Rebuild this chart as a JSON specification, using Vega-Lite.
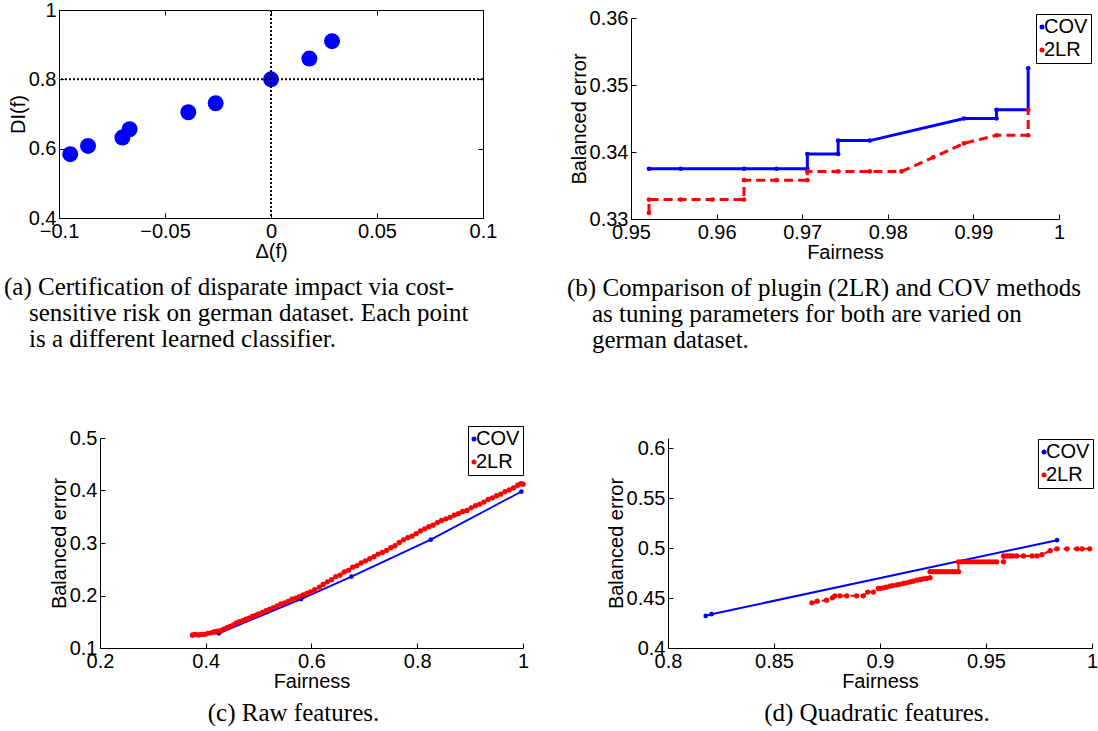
{
  "$schema": "https://vega.github.io/schema/vega-lite/v6.json",
  "padding": {"left": 3, "top": -1, "right": 0, "bottom": 0},
  "background": "white",
  "config": {
    "view": {"stroke": null},
    "font": "Liberation Sans",
    "axis": {"grid": false, "domainColor": "black", "tickColor": "black", "labelColor": "black", "titleColor": "black",
      "labelFont": "Liberation Sans", "titleFont": "Liberation Sans", "labelFontSize": 20, "titleFontSize": 20,
      "titleFontWeight": "normal", "tickSize": -5, "labelPadding": 8, "titlePadding": 0, "domainWidth": 1, "tickWidth": 1,
      "labelFlush": false, "labelOverlap": false, "labelBound": false},
    "title": {"font": "Liberation Serif", "fontSize": 25, "fontWeight": "normal", "color": "black", "lineHeight": 26, "orient": "bottom"},
    "legend": {"orient": "none", "title": null, "strokeColor": "black", "fillColor": "white", "padding": 3,
      "labelFont": "Liberation Sans", "labelFontSize": 20, "labelColor": "black", "symbolType": "circle",
      "symbolSize": 25, "symbolOffset": -7, "labelOffset": -8, "rowPadding": 3, "symbolStrokeWidth": 0, "columnPadding": 0}
  },
  "datasets": {
    "a_pts": [
      {"delta": -0.0947, "di": 0.584},
      {"delta": -0.0863, "di": 0.608},
      {"delta": -0.0701, "di": 0.632},
      {"delta": -0.0667, "di": 0.656},
      {"delta": -0.039, "di": 0.705},
      {"delta": -0.0261, "di": 0.731},
      {"delta": 0.0, "di": 0.8},
      {"delta": 0.0181, "di": 0.86},
      {"delta": 0.0288, "di": 0.91}
    ],
    "b_lines": [
      {"method": "COV", "fairness": 0.9521, "error": 0.3375},
      {"method": "COV", "fairness": 0.9558, "error": 0.3375},
      {"method": "COV", "fairness": 0.9632, "error": 0.3375},
      {"method": "COV", "fairness": 0.967, "error": 0.3375},
      {"method": "COV", "fairness": 0.9706, "error": 0.3375},
      {"method": "COV", "fairness": 0.9706, "error": 0.3397},
      {"method": "COV", "fairness": 0.9742, "error": 0.3397},
      {"method": "COV", "fairness": 0.9742, "error": 0.3417},
      {"method": "COV", "fairness": 0.9779, "error": 0.3417},
      {"method": "COV", "fairness": 0.9889, "error": 0.345},
      {"method": "COV", "fairness": 0.9927, "error": 0.345},
      {"method": "COV", "fairness": 0.9927, "error": 0.3463},
      {"method": "COV", "fairness": 0.9964, "error": 0.3463},
      {"method": "COV", "fairness": 0.9964, "error": 0.3525},
      {"method": "2LR", "fairness": 0.9521, "error": 0.3309},
      {"method": "2LR", "fairness": 0.9521, "error": 0.3329},
      {"method": "2LR", "fairness": 0.9558, "error": 0.3329},
      {"method": "2LR", "fairness": 0.9595, "error": 0.3329},
      {"method": "2LR", "fairness": 0.9632, "error": 0.3329},
      {"method": "2LR", "fairness": 0.9632, "error": 0.3358},
      {"method": "2LR", "fairness": 0.967, "error": 0.3358},
      {"method": "2LR", "fairness": 0.9706, "error": 0.3358},
      {"method": "2LR", "fairness": 0.9706, "error": 0.3371},
      {"method": "2LR", "fairness": 0.9742, "error": 0.3371},
      {"method": "2LR", "fairness": 0.9779, "error": 0.3371},
      {"method": "2LR", "fairness": 0.9816, "error": 0.3371},
      {"method": "2LR", "fairness": 0.9853, "error": 0.3392},
      {"method": "2LR", "fairness": 0.9889, "error": 0.3413},
      {"method": "2LR", "fairness": 0.9927, "error": 0.3425},
      {"method": "2LR", "fairness": 0.9964, "error": 0.3425},
      {"method": "2LR", "fairness": 0.9964, "error": 0.3463}
    ],
    "c_lines": [
      {"method": "COV", "fairness": 0.375, "error": 0.124},
      {"method": "COV", "fairness": 0.388, "error": 0.125},
      {"method": "COV", "fairness": 0.425, "error": 0.128},
      {"method": "COV", "fairness": 0.58, "error": 0.193},
      {"method": "COV", "fairness": 0.6756, "error": 0.236},
      {"method": "COV", "fairness": 0.8255, "error": 0.3064},
      {"method": "COV", "fairness": 0.997, "error": 0.398},
      {"method": "2LR", "fairness": 0.375, "error": 0.125},
      {"method": "2LR", "fairness": 0.38, "error": 0.126},
      {"method": "2LR", "fairness": 0.386, "error": 0.125},
      {"method": "2LR", "fairness": 0.392, "error": 0.126},
      {"method": "2LR", "fairness": 0.398, "error": 0.126},
      {"method": "2LR", "fairness": 0.404, "error": 0.128},
      {"method": "2LR", "fairness": 0.41, "error": 0.129},
      {"method": "2LR", "fairness": 0.416, "error": 0.131},
      {"method": "2LR", "fairness": 0.422, "error": 0.132},
      {"method": "2LR", "fairness": 0.428, "error": 0.133},
      {"method": "2LR", "fairness": 0.434, "error": 0.136},
      {"method": "2LR", "fairness": 0.44, "error": 0.139},
      {"method": "2LR", "fairness": 0.446, "error": 0.141},
      {"method": "2LR", "fairness": 0.452, "error": 0.144},
      {"method": "2LR", "fairness": 0.458, "error": 0.148},
      {"method": "2LR", "fairness": 0.464, "error": 0.15},
      {"method": "2LR", "fairness": 0.47, "error": 0.152},
      {"method": "2LR", "fairness": 0.476, "error": 0.155},
      {"method": "2LR", "fairness": 0.482, "error": 0.157},
      {"method": "2LR", "fairness": 0.488, "error": 0.16},
      {"method": "2LR", "fairness": 0.494, "error": 0.162},
      {"method": "2LR", "fairness": 0.5, "error": 0.165},
      {"method": "2LR", "fairness": 0.507, "error": 0.168},
      {"method": "2LR", "fairness": 0.514, "error": 0.171},
      {"method": "2LR", "fairness": 0.521, "error": 0.174},
      {"method": "2LR", "fairness": 0.528, "error": 0.177},
      {"method": "2LR", "fairness": 0.535, "error": 0.18},
      {"method": "2LR", "fairness": 0.542, "error": 0.184},
      {"method": "2LR", "fairness": 0.549, "error": 0.186},
      {"method": "2LR", "fairness": 0.556, "error": 0.189},
      {"method": "2LR", "fairness": 0.563, "error": 0.193},
      {"method": "2LR", "fairness": 0.57, "error": 0.195},
      {"method": "2LR", "fairness": 0.577, "error": 0.198},
      {"method": "2LR", "fairness": 0.584, "error": 0.201},
      {"method": "2LR", "fairness": 0.591, "error": 0.204},
      {"method": "2LR", "fairness": 0.598, "error": 0.207},
      {"method": "2LR", "fairness": 0.606, "error": 0.211},
      {"method": "2LR", "fairness": 0.615, "error": 0.216},
      {"method": "2LR", "fairness": 0.622, "error": 0.221},
      {"method": "2LR", "fairness": 0.63, "error": 0.226},
      {"method": "2LR", "fairness": 0.638, "error": 0.23},
      {"method": "2LR", "fairness": 0.646, "error": 0.236},
      {"method": "2LR", "fairness": 0.654, "error": 0.239},
      {"method": "2LR", "fairness": 0.662, "error": 0.245},
      {"method": "2LR", "fairness": 0.67, "error": 0.248},
      {"method": "2LR", "fairness": 0.678, "error": 0.254},
      {"method": "2LR", "fairness": 0.686, "error": 0.257},
      {"method": "2LR", "fairness": 0.694, "error": 0.262},
      {"method": "2LR", "fairness": 0.702, "error": 0.266},
      {"method": "2LR", "fairness": 0.71, "error": 0.27},
      {"method": "2LR", "fairness": 0.718, "error": 0.274},
      {"method": "2LR", "fairness": 0.726, "error": 0.279},
      {"method": "2LR", "fairness": 0.734, "error": 0.282},
      {"method": "2LR", "fairness": 0.742, "error": 0.286},
      {"method": "2LR", "fairness": 0.75, "error": 0.291},
      {"method": "2LR", "fairness": 0.758, "error": 0.295},
      {"method": "2LR", "fairness": 0.766, "error": 0.301},
      {"method": "2LR", "fairness": 0.774, "error": 0.306},
      {"method": "2LR", "fairness": 0.782, "error": 0.31},
      {"method": "2LR", "fairness": 0.79, "error": 0.313},
      {"method": "2LR", "fairness": 0.798, "error": 0.318},
      {"method": "2LR", "fairness": 0.806, "error": 0.323},
      {"method": "2LR", "fairness": 0.814, "error": 0.327},
      {"method": "2LR", "fairness": 0.822, "error": 0.331},
      {"method": "2LR", "fairness": 0.83, "error": 0.334},
      {"method": "2LR", "fairness": 0.838, "error": 0.339},
      {"method": "2LR", "fairness": 0.846, "error": 0.343},
      {"method": "2LR", "fairness": 0.854, "error": 0.346},
      {"method": "2LR", "fairness": 0.862, "error": 0.349},
      {"method": "2LR", "fairness": 0.87, "error": 0.353},
      {"method": "2LR", "fairness": 0.878, "error": 0.356},
      {"method": "2LR", "fairness": 0.886, "error": 0.36},
      {"method": "2LR", "fairness": 0.894, "error": 0.362},
      {"method": "2LR", "fairness": 0.902, "error": 0.367},
      {"method": "2LR", "fairness": 0.91, "error": 0.371},
      {"method": "2LR", "fairness": 0.918, "error": 0.374},
      {"method": "2LR", "fairness": 0.926, "error": 0.378},
      {"method": "2LR", "fairness": 0.934, "error": 0.383},
      {"method": "2LR", "fairness": 0.942, "error": 0.386},
      {"method": "2LR", "fairness": 0.95, "error": 0.39},
      {"method": "2LR", "fairness": 0.958, "error": 0.393},
      {"method": "2LR", "fairness": 0.966, "error": 0.398},
      {"method": "2LR", "fairness": 0.974, "error": 0.401},
      {"method": "2LR", "fairness": 0.982, "error": 0.405},
      {"method": "2LR", "fairness": 0.99, "error": 0.41},
      {"method": "2LR", "fairness": 0.996, "error": 0.413},
      {"method": "2LR", "fairness": 1.0, "error": 0.412}
    ],
    "d_lines": [
      {"method": "COV", "fairness": 0.8178, "error": 0.4321},
      {"method": "COV", "fairness": 0.8205, "error": 0.4338},
      {"method": "COV", "fairness": 0.9835, "error": 0.5078},
      {"method": "2LR", "fairness": 0.8679, "error": 0.4452},
      {"method": "2LR", "fairness": 0.8704, "error": 0.4468},
      {"method": "2LR", "fairness": 0.8748, "error": 0.4478},
      {"method": "2LR", "fairness": 0.8775, "error": 0.4502},
      {"method": "2LR", "fairness": 0.8787, "error": 0.4522},
      {"method": "2LR", "fairness": 0.8811, "error": 0.4522},
      {"method": "2LR", "fairness": 0.8843, "error": 0.4522},
      {"method": "2LR", "fairness": 0.889, "error": 0.4522},
      {"method": "2LR", "fairness": 0.8921, "error": 0.4522},
      {"method": "2LR", "fairness": 0.8942, "error": 0.4559},
      {"method": "2LR", "fairness": 0.8969, "error": 0.4559},
      {"method": "2LR", "fairness": 0.8992, "error": 0.4595},
      {"method": "2LR", "fairness": 0.9, "error": 0.4596},
      {"method": "2LR", "fairness": 0.9016, "error": 0.4602},
      {"method": "2LR", "fairness": 0.903, "error": 0.4608},
      {"method": "2LR", "fairness": 0.9047, "error": 0.4619},
      {"method": "2LR", "fairness": 0.906, "error": 0.4624},
      {"method": "2LR", "fairness": 0.9079, "error": 0.4632},
      {"method": "2LR", "fairness": 0.9092, "error": 0.4637},
      {"method": "2LR", "fairness": 0.911, "error": 0.4645},
      {"method": "2LR", "fairness": 0.9125, "error": 0.4652},
      {"method": "2LR", "fairness": 0.9142, "error": 0.4662},
      {"method": "2LR", "fairness": 0.9156, "error": 0.4668},
      {"method": "2LR", "fairness": 0.9173, "error": 0.4679},
      {"method": "2LR", "fairness": 0.919, "error": 0.4685},
      {"method": "2LR", "fairness": 0.9205, "error": 0.4692},
      {"method": "2LR", "fairness": 0.922, "error": 0.4697},
      {"method": "2LR", "fairness": 0.9236, "error": 0.4702},
      {"method": "2LR", "fairness": 0.9236, "error": 0.4763},
      {"method": "2LR", "fairness": 0.925, "error": 0.4763},
      {"method": "2LR", "fairness": 0.9265, "error": 0.4763},
      {"method": "2LR", "fairness": 0.928, "error": 0.4763},
      {"method": "2LR", "fairness": 0.9295, "error": 0.4763},
      {"method": "2LR", "fairness": 0.931, "error": 0.4763},
      {"method": "2LR", "fairness": 0.9325, "error": 0.4763},
      {"method": "2LR", "fairness": 0.934, "error": 0.4763},
      {"method": "2LR", "fairness": 0.9355, "error": 0.4763},
      {"method": "2LR", "fairness": 0.937, "error": 0.4763},
      {"method": "2LR", "fairness": 0.937, "error": 0.4862},
      {"method": "2LR", "fairness": 0.9385, "error": 0.4862},
      {"method": "2LR", "fairness": 0.94, "error": 0.4862},
      {"method": "2LR", "fairness": 0.9415, "error": 0.4862},
      {"method": "2LR", "fairness": 0.943, "error": 0.4862},
      {"method": "2LR", "fairness": 0.9445, "error": 0.4862},
      {"method": "2LR", "fairness": 0.946, "error": 0.4862},
      {"method": "2LR", "fairness": 0.9475, "error": 0.4862},
      {"method": "2LR", "fairness": 0.949, "error": 0.4862},
      {"method": "2LR", "fairness": 0.9505, "error": 0.4862},
      {"method": "2LR", "fairness": 0.952, "error": 0.4862},
      {"method": "2LR", "fairness": 0.9535, "error": 0.4862},
      {"method": "2LR", "fairness": 0.955, "error": 0.4862},
      {"method": "2LR", "fairness": 0.9583, "error": 0.4862},
      {"method": "2LR", "fairness": 0.9583, "error": 0.4921},
      {"method": "2LR", "fairness": 0.9598, "error": 0.4921},
      {"method": "2LR", "fairness": 0.9612, "error": 0.4921},
      {"method": "2LR", "fairness": 0.9627, "error": 0.4921},
      {"method": "2LR", "fairness": 0.9645, "error": 0.4921},
      {"method": "2LR", "fairness": 0.9677, "error": 0.4921},
      {"method": "2LR", "fairness": 0.9717, "error": 0.4921},
      {"method": "2LR", "fairness": 0.974, "error": 0.4921},
      {"method": "2LR", "fairness": 0.9764, "error": 0.4933},
      {"method": "2LR", "fairness": 0.9803, "error": 0.4973},
      {"method": "2LR", "fairness": 0.9835, "error": 0.4992},
      {"method": "2LR", "fairness": 0.9882, "error": 0.4992},
      {"method": "2LR", "fairness": 0.9929, "error": 0.4992},
      {"method": "2LR", "fairness": 0.9953, "error": 0.4992},
      {"method": "2LR", "fairness": 0.9989, "error": 0.4992}
    ]
  },
  "bounds": "flush",
  "spacing": 428,
  "resolve": {"scale": {"color": "independent"}, "legend": {"color": "independent"}},
  "vconcat": [
    {
      "bounds": "flush",
      "spacing": 148,
      "resolve": {"scale": {"color": "independent"}, "legend": {"color": "independent"}},
      "hconcat": [
        {
          "width": 424, "height": 208,
          "view": {"stroke": "black", "strokeWidth": 1},
          "title": {"text": ["(a) Certification of disparate impact via cost-", "\u200d\u00a0\u00a0\u00a0\u00a0sensitive risk on german dataset. Each point", "\u200d\u00a0\u00a0\u00a0\u00a0is a different learned classifier."], "anchor": "start", "frame": "group", "dx": -55, "offset": 14},
          "resolve": {"axis": {"x": "independent", "y": "independent"}},
          "layer": [
            {
              "data": {"name": "a_pts"},
              "mark": {"type": "point", "filled": true, "size": 255, "color": "#0000ff", "opacity": 1},
              "encoding": {
                "x": {"field": "delta", "type": "quantitative", "title": "Δ(f)", "scale": {"domain": [-0.1, 0.1], "nice": false, "zero": false}, "axis": {"orient": "bottom", "values": [-0.1, -0.05, 0, 0.05, 0.1], "format": "~g"}},
                "y": {"field": "di", "type": "quantitative", "title": "DI(f)", "scale": {"domain": [0.4, 1], "nice": false, "zero": false}, "axis": {"orient": "left", "values": [0.4, 0.6, 0.8, 1], "format": "~g"}}
              }
            },
            {
              "data": {"values": [{"delta": 0}]},
              "mark": {"type": "rule", "strokeDash": [2, 2], "strokeWidth": 2, "color": "black"},
              "encoding": {"x": {"field": "delta", "type": "quantitative", "axis": {"orient": "top", "title": null, "labels": false, "domain": false, "values": [-0.1, -0.05, 0, 0.05, 0.1]}}}
            },
            {
              "data": {"values": [{"di": 0.8}]},
              "mark": {"type": "rule", "strokeDash": [2, 2], "strokeWidth": 2, "color": "black"},
              "encoding": {"y": {"field": "di", "type": "quantitative", "axis": {"orient": "right", "title": null, "labels": false, "domain": false, "values": [0.4, 0.6, 0.8, 1]}}}
            }
          ]
        },
        {
          "bounds": "flush",
          "spacing": 0,
          "resolve": {"scale": {"color": "independent"}, "legend": {"color": "independent"}},
          "vconcat": [
            {"width": 428, "height": 8, "data": {"values": []}, "mark": {"type": "point", "opacity": 0}, "encoding": {}},
            {
              "width": 428, "height": 201,
              "data": {"name": "b_lines"},
              "title": {"text": ["(b) Comparison of plugin (2LR) and COV methods", "\u200d\u00a0\u00a0\u00a0\u00a0as tuning parameters for both are varied on", "\u200d\u00a0\u00a0\u00a0\u00a0german dataset."], "anchor": "start", "frame": "group", "dx": -64, "offset": 14},
              "encoding": {
                "x": {"field": "fairness", "type": "quantitative", "title": "Fairness", "scale": {"domain": [0.95, 1], "nice": false, "zero": false}, "axis": {"values": [0.95, 0.96, 0.97, 0.98, 0.99, 1], "format": "~g"}},
                "y": {"field": "error", "type": "quantitative", "title": "Balanced error", "scale": {"domain": [0.33, 0.36], "nice": false, "zero": false}, "axis": {"values": [0.33, 0.34, 0.35, 0.36], "format": "~g"}},
                "color": {"field": "method", "type": "nominal", "scale": {"domain": ["COV", "2LR"], "range": ["#0000ff", "#ff0000"]}, "legend": {"legendX": 405, "legendY": -4}}
              },
              "layer": [
                {"transform": [{"filter": "datum.method === 'COV'"}], "mark": {"type": "line", "strokeWidth": 3}},
                {"transform": [{"filter": "datum.method === 'COV'"}], "mark": {"type": "point", "filled": true, "size": 22, "opacity": 1}},
                {"transform": [{"filter": "datum.method === '2LR'"}], "mark": {"type": "line", "strokeWidth": 3, "strokeDash": [9, 5]}},
                {"transform": [{"filter": "datum.method === '2LR'"}], "mark": {"type": "point", "filled": true, "size": 22, "opacity": 1}}
              ]
            }
          ]
        }
      ]
    },
    {
      "bounds": "flush",
      "spacing": 0,
      "resolve": {"scale": {"color": "independent"}, "legend": {"color": "independent"}},
      "hconcat": [
        {"width": 41, "height": 10, "data": {"values": []}, "mark": {"type": "point", "opacity": 0}, "encoding": {}},
        {
          "bounds": "flush",
          "spacing": 145,
          "resolve": {"scale": {"color": "independent"}, "legend": {"color": "independent"}},
          "hconcat": [
            {
              "width": 423, "height": 210,
              "data": {"name": "c_lines"},
              "title": {"text": "(c) Raw features.", "anchor": "middle", "frame": "group", "dx": -18, "offset": 10},
              "encoding": {
                "x": {"field": "fairness", "type": "quantitative", "title": "Fairness", "scale": {"domain": [0.2, 1], "nice": false, "zero": false}, "axis": {"values": [0.2, 0.4, 0.6, 0.8, 1], "format": "~g"}},
                "y": {"field": "error", "type": "quantitative", "title": "Balanced error", "scale": {"domain": [0.1, 0.5], "nice": false, "zero": false}, "axis": {"values": [0.1, 0.2, 0.3, 0.4, 0.5], "format": "~g"}},
                "color": {"field": "method", "type": "nominal", "scale": {"domain": ["COV", "2LR"], "range": ["#0000ff", "#ff0000"]}, "legend": {"legendX": 368, "legendY": -12}}
              },
              "layer": [
                {"transform": [{"filter": "datum.method === 'COV'"}], "mark": {"type": "line", "strokeWidth": 1.8}},
                {"transform": [{"filter": "datum.method === 'COV'"}], "mark": {"type": "point", "filled": true, "size": 22, "opacity": 1}},
                {"transform": [{"filter": "datum.method === '2LR'"}], "mark": {"type": "line", "strokeWidth": 2, "strokeDash": [6, 4]}},
                {"transform": [{"filter": "datum.method === '2LR'"}], "mark": {"type": "point", "filled": true, "size": 28, "opacity": 1}}
              ]
            },
            {
              "width": 424, "height": 210,
              "data": {"name": "d_lines"},
              "title": {"text": "(d) Quadratic features.", "anchor": "middle", "frame": "group", "dx": -3, "offset": 10},
              "encoding": {
                "x": {"field": "fairness", "type": "quantitative", "title": "Fairness", "scale": {"domain": [0.8, 1], "nice": false, "zero": false}, "axis": {"values": [0.8, 0.85, 0.9, 0.95, 1], "format": "~g"}},
                "y": {"field": "error", "type": "quantitative", "title": "Balanced error", "scale": {"domain": [0.4, 0.61], "nice": false, "zero": false}, "axis": {"values": [0.4, 0.45, 0.5, 0.55, 0.6], "format": "~g"}},
                "color": {"field": "method", "type": "nominal", "scale": {"domain": ["COV", "2LR"], "range": ["#0000ff", "#ff0000"]}, "legend": {"legendX": 370, "legendY": 1}}
              },
              "layer": [
                {"transform": [{"filter": "datum.method === 'COV'"}], "mark": {"type": "line", "strokeWidth": 2}},
                {"transform": [{"filter": "datum.method === 'COV'"}], "mark": {"type": "point", "filled": true, "size": 22, "opacity": 1}},
                {"transform": [{"filter": "datum.method === '2LR'"}], "mark": {"type": "line", "strokeWidth": 2, "strokeDash": [6, 4]}},
                {"transform": [{"filter": "datum.method === '2LR'"}], "mark": {"type": "point", "filled": true, "size": 28, "opacity": 1}}
              ]
            }
          ]
        }
      ]
    }
  ]
}
